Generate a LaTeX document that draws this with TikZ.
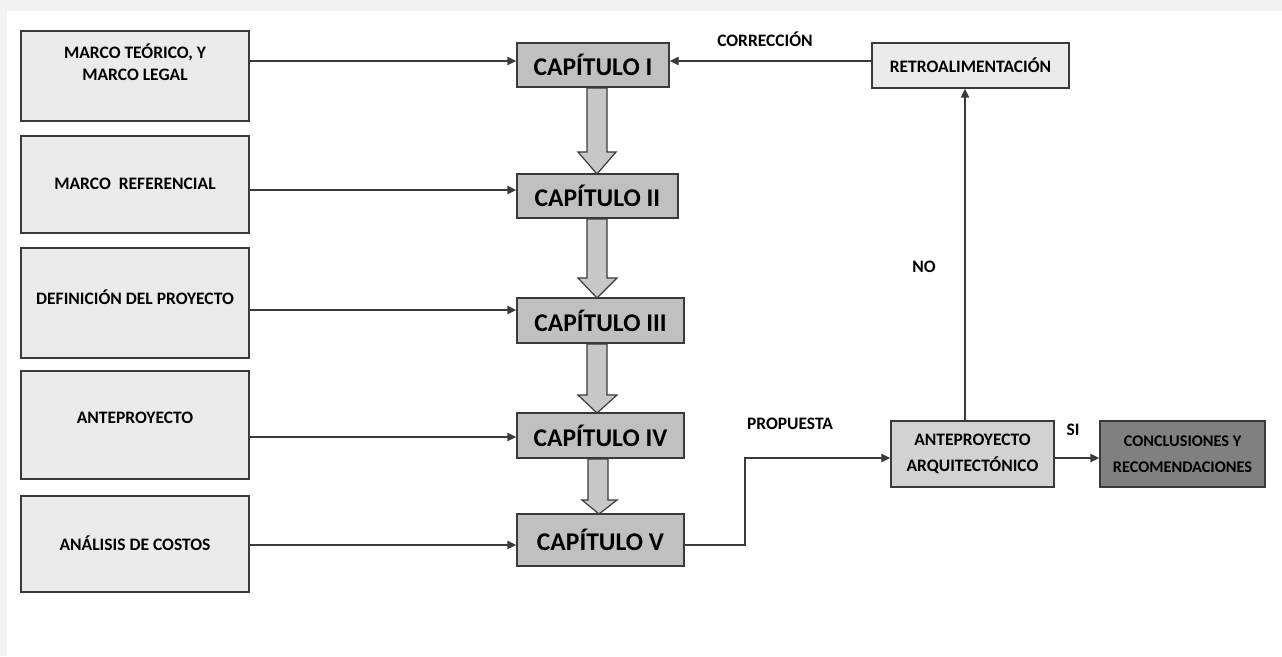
\documentclass[tikz,border=0pt]{standalone}
\usepackage{fontspec}
\setmainfont{Carlito}
\usetikzlibrary{arrows.meta}
\definecolor{lfill}{HTML}{EBEBEB}
\definecolor{cfill}{HTML}{C0C0C0}
\definecolor{afill}{HTML}{D2D2D2}
\definecolor{dfill}{HTML}{808080}
\definecolor{bfill}{HTML}{C8C8C8}
\definecolor{edge}{HTML}{3A3A3A}
\definecolor{frame}{HTML}{F2F2F2}
\tikzset{
  lbox/.style={draw=edge, line width=1.4pt, fill=lfill, inner sep=0pt, minimum width=228pt},
  cbox/.style={draw=edge, line width=1.4pt, fill=cfill, inner sep=0pt, font=\bfseries\fontsize{25.5}{27}\selectfont},
  sbox/.style={draw=edge, line width=1.4pt, inner sep=0pt, align=center, font=\bfseries\fontsize{17.5}{26}\selectfont},
  ltxt/.style={inner sep=0pt, align=center, font=\bfseries\fontsize{17.5}{22}\selectfont},
  lab/.style={inner sep=0pt, font=\bfseries\fontsize{17.5}{20}\selectfont},
  conn/.style={draw=edge, line width=2.2pt, -{Triangle[length=9pt,width=8pt]}},
  blk/.style={draw=edge, line width=1.2pt, fill=bfill, line join=miter}
}
\begin{document}
\begin{tikzpicture}[x=1pt,y=-1pt]
\useasboundingbox (0,0) rectangle (1282,656);
\fill[white] (0,0) rectangle (1282,656);
\fill[frame] (0,0) rectangle (1282,11);
\fill[frame] (0,11) rectangle (7,656);

% left boxes
\node[lbox, minimum height=90pt] (m1) at (135,76) {};
\node[ltxt] at (135,62) {MARCO TEÓRICO, Y\\MARCO LEGAL};
\node[lbox, minimum height=97pt] (m2) at (135,184.5) {};
\node[ltxt] at (135,184) {MARCO\ \ REFERENCIAL};
\node[lbox, minimum height=110pt] (m3) at (135,303) {};
\node[ltxt] at (135,297) {DEFINICIÓN DEL PROYECTO};
\node[lbox, minimum height=108pt] (m4) at (135,425) {};
\node[ltxt] at (135,418) {ANTEPROYECTO};
\node[lbox, minimum height=96pt] (m5) at (135,544) {};
\node[ltxt] at (135,543) {ANÁLISIS DE COSTOS};

% chapter boxes
\node[cbox, minimum width=152pt, minimum height=44pt] (c1) at (593,65) {CAPÍTULO I};
\node[cbox, minimum width=161pt, minimum height=44pt] (c2) at (597.5,196) {CAPÍTULO II};
\node[cbox, minimum width=167pt, minimum height=45pt] (c3) at (600.5,320.5) {CAPÍTULO III};
\node[cbox, minimum width=167pt, minimum height=45pt] (c4) at (600.5,435.5) {CAPÍTULO IV};
\node[cbox, minimum width=167pt, minimum height=52pt] (c5) at (600.5,540) {CAPÍTULO V};

% block arrows
\draw[blk] (587,88) -- (607,88) -- (607,152) -- (616,152) -- (597,174) -- (578,152) -- (587,152) -- cycle;
\draw[blk] (587,219) -- (607,219) -- (607,278) -- (617,278) -- (597,298) -- (578,278) -- (587,278) -- cycle;
\draw[blk] (587,344) -- (607,344) -- (607,395) -- (617,395) -- (597,413) -- (578,395) -- (587,395) -- cycle;
\draw[blk] (588,459) -- (608,459) -- (608,500) -- (617,500) -- (599,514) -- (582,500) -- (588,500) -- cycle;

% right boxes
\node[sbox, fill=lfill, minimum width=197pt, minimum height=45pt] (r) at (970.5,65.5) {RETROALIMENTACIÓN};
\node[sbox, fill=afill, minimum width=163pt, minimum height=66pt] (a) at (972.5,454) {ANTEPROYECTO\\ARQUITECTÓNICO};
\node[sbox, fill=dfill, minimum width=165pt, minimum height=66pt, font=\bfseries\fontsize{16.3}{26}\selectfont] (k) at (1182.5,454) {CONCLUSIONES Y\\RECOMENDACIONES};

% connectors left
\draw[conn] (m1.east |- 0,61) -- (c1.west |- 0,61);
\draw[conn] (m2.east |- 0,190) -- (c2.west |- 0,190);
\draw[conn] (m3.east |- 0,310) -- (c3.west |- 0,310);
\draw[conn] (m4.east |- 0,437) -- (c4.west |- 0,437);
\draw[conn] (m5.east |- 0,545) -- (c5.west |- 0,545);

% feedback
\draw[conn] (r.west |- 0,61) -- (c1.east |- 0,61);
\draw[conn] (a.north -| 965,0) -- (r.south -| 965,0);
\coordinate (bend) at (745,545);
\draw[conn] (c5.east |- bend) -- (bend) |- (a.west |- 0,458);
\draw[conn] (a.east |- 0,458) -- (k.west |- 0,458);

% labels
\node[lab] at (765,39) {CORRECCIÓN};
\node[lab] at (924,267) {NO};
\node[lab] at (790,424) {PROPUESTA};
\node[lab] at (1073,430) {SI};
\end{tikzpicture}
\end{document}
